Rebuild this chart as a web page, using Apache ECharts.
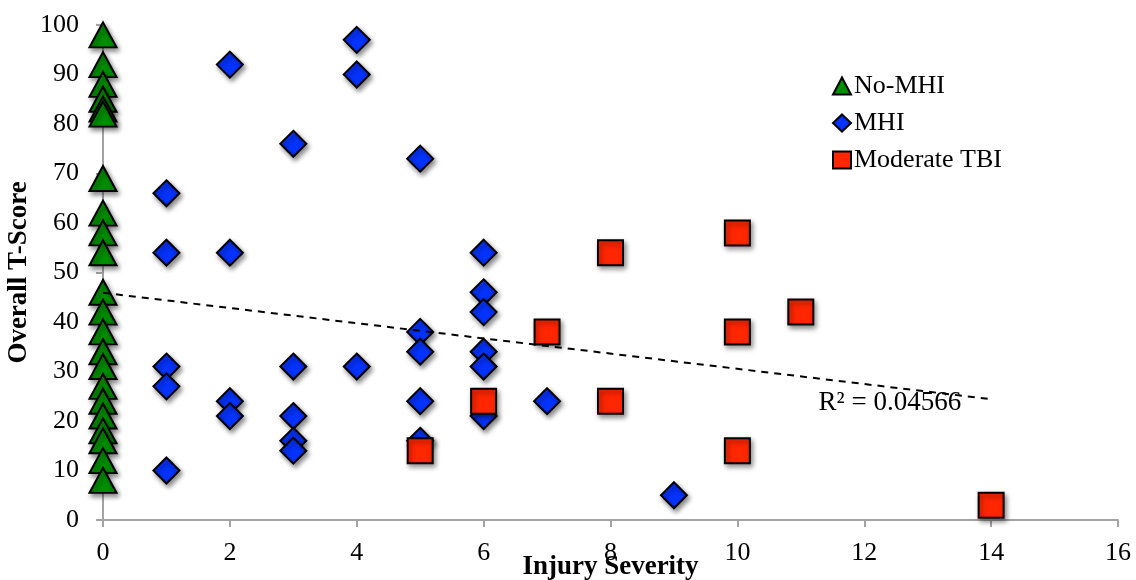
<!DOCTYPE html>
<html>
<head>
<meta charset="utf-8">
<title>Overall T-Score by Injury Severity</title>
<script src="https://cdn.jsdelivr.net/npm/echarts@6/dist/echarts.min.js"></script>
<style>
  html, body { margin: 0; padding: 0; background: #ffffff; }
  #chart { width: 1136px; height: 580px; }
</style>
</head>
<body>
<div id="chart"></div>
<script>
// Group names as shown in the legend
const groupNames = ['No-MHI', 'MHI', 'Moderate TBI'];

// No-MHI participants: all at injury severity 0
const noMhiSeverity = [0, 0, 0, 0, 0, 0, 0, 0, 0, 0, 0, 0, 0, 0, 0, 0, 0, 0, 0, 0, 0, 0];
const noMhiScore    = [98, 92, 88, 85, 83, 82, 69, 62, 58, 54, 46, 42, 38, 34, 31, 27, 24, 21, 18, 16, 12, 8];

// MHI participants
const mhiSeverity = [1, 1, 1, 1, 1, 2, 2, 2, 2, 3, 3, 3, 3, 3, 4, 4, 4, 5, 5, 5, 5, 5, 6, 6, 6, 6, 6, 6, 7, 9];
const mhiScore    = [66, 54, 31, 27, 10, 92, 54, 24, 21, 76, 31, 21, 16, 14, 97, 90, 31, 73, 38, 34, 24, 16, 54, 46, 42, 34, 31, 21, 24, 5];

// Moderate TBI participants
const tbiSeverity = [5, 6, 7, 8, 8, 10, 10, 10, 11, 14];
const tbiScore    = [14, 24, 38, 54, 24, 58, 38, 14, 42, 3];

// Linear trend line endpoints and its fit statistic
const trendSeverity = [0, 14];
const trendScore    = [45.9, 24.4];
const rSquaredText  = 'R\u00B2 = 0.04566';

// Axis ranges and tick steps
const xMin = 0, xMax = 16, xStep = 2;
const yMin = 0, yMax = 100, yStep = 10;

function pairs(xs, ys) {
  return xs.map((x, i) => [x, ys[i]]);
}

const serif = '"Liberation Serif", "Times New Roman", serif';
const axisGray = '#a3a3a3';

const markerStyle = {
  opacity: 1,
  borderColor: '#000000',
  borderWidth: 2,
  shadowColor: 'rgba(0,0,0,0.45)',
  shadowBlur: 5,
  shadowOffsetX: 2,
  shadowOffsetY: 3
};

const chart = echarts.init(document.getElementById('chart'), null, { renderer: 'canvas' });

chart.setOption({
  backgroundColor: '#ffffff',
  animation: false,
  grid: { left: 103, right: 18, top: 25, bottom: 60, containLabel: false, outerBoundsMode: 'none' },
  legend: {
    data: groupNames,
    orient: 'vertical',
    left: 827,
    top: 68,
    itemWidth: 18,
    itemHeight: 17,
    itemGap: 11,
    textStyle: { fontFamily: serif, fontSize: 26, color: '#000', lineHeight: 26, padding: [0, 0, 0, -2] },
    itemStyle: { opacity: 1, shadowBlur: 0, shadowOffsetX: 0, shadowOffsetY: 0, borderWidth: 2 }
  },
  xAxis: {
    type: 'value',
    min: xMin,
    max: xMax,
    interval: xStep,
    name: 'Injury Severity',
    nameLocation: 'middle',
    nameGap: 34,
    nameMoveOverlap: false,
    nameTextStyle: { fontFamily: serif, fontWeight: 'bold', fontSize: 27, color: '#000' },
    axisLine: { show: true, lineStyle: { color: axisGray, width: 2 } },
    axisTick: { show: true, length: 7, lineStyle: { color: axisGray, width: 2 } },
    axisLabel: { fontFamily: serif, fontSize: 26, color: '#000', margin: 20 },
    splitLine: { show: false }
  },
  yAxis: {
    type: 'value',
    min: yMin,
    max: yMax,
    interval: yStep,
    name: 'Overall T-Score',
    nameLocation: 'middle',
    nameGap: 70,
    nameMoveOverlap: false,
    nameTextStyle: { fontFamily: serif, fontWeight: 'bold', fontSize: 27, color: '#000' },
    axisLine: { show: true, lineStyle: { color: axisGray, width: 2 } },
    axisTick: { show: true, length: 7, lineStyle: { color: axisGray, width: 2 } },
    axisLabel: { fontFamily: serif, fontSize: 26, color: '#000', margin: 24 },
    splitLine: { show: false }
  },
  series: [
    {
      name: groupNames[0],
      type: 'scatter',
      symbol: 'triangle',
      symbolSize: [27, 25],
      data: pairs(noMhiSeverity, noMhiScore),
      itemStyle: Object.assign({ color: '#008F00' }, markerStyle),
      z: 2
    },
    {
      name: groupNames[1],
      type: 'scatter',
      symbol: 'diamond',
      symbolSize: 26,
      data: pairs(mhiSeverity, mhiScore),
      itemStyle: Object.assign({ color: '#0433FF' }, markerStyle),
      z: 3
    },
    {
      name: groupNames[2],
      type: 'scatter',
      symbol: 'rect',
      symbolSize: 25,
      data: pairs(tbiSeverity, tbiScore),
      itemStyle: Object.assign({ color: '#FF2600' }, markerStyle),
      z: 4
    },
    {
      name: 'trend',
      type: 'line',
      data: pairs(trendSeverity, trendScore),
      symbol: 'none',
      silent: true,
      lineStyle: { color: '#000', width: 2, type: [7, 6] },
      z: 5,
      endLabel: {
        show: true,
        formatter: rSquaredText,
        fontFamily: serif,
        fontSize: 27,
        color: '#000',
        align: 'right',
        offset: [-38, 4]
      }
    }
  ]
});
</script>
</body>
</html>
